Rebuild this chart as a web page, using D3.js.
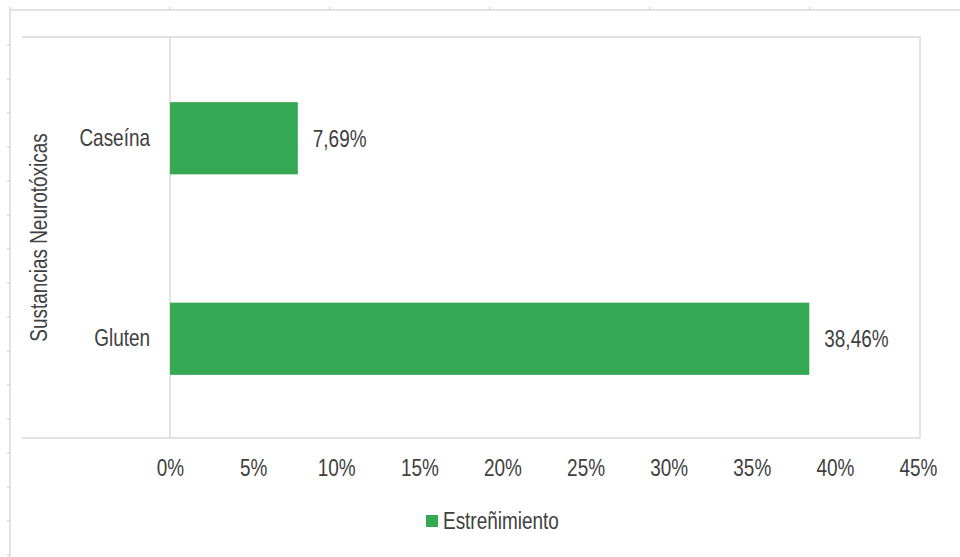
<!DOCTYPE html>
<html>
<head>
<meta charset="utf-8">
<script src="https://cdn.jsdelivr.net/npm/d3@7"></script>
<style>
  html, body { margin: 0; padding: 0; background: #fff; }
  svg { display: block; }
  text { font-family: "Liberation Sans", Arial, sans-serif; fill: #404040; }
</style>
</head>
<body>
<svg id="chart" width="960" height="557"></svg>
<script>
// Data
const categories = ["Caseína", "Gluten"];
const values = [7.69, 38.46];
const valueLabels = ["7,69%", "38,46%"];
const tickValues = [0, 5, 10, 15, 20, 25, 30, 35, 40, 45];
const seriesName = "Estreñimiento";
const axisTitle = "Sustancias Neurotóxicas";

const svg = d3.select("#chart");
const W = 960, H = 557;
const plot = { left: 22, top: 37, right: 920, bottom: 438 };
const axisX0 = 170;
const barColor = "#34A853";
const gridColor = "#d9d9d9";
const fontSize = 24;
const narrow = 0.79; // horizontal squeeze for a condensed look

// Outer frame with small cell marks
const frame = svg.append("g");
frame.append("line").attr("x1", 10).attr("x2", W).attr("y1", 10).attr("y2", 10)
  .attr("stroke", gridColor).attr("stroke-width", 1.5);
frame.append("line").attr("x1", 10).attr("x2", 10).attr("y1", 10).attr("y2", H)
  .attr("stroke", gridColor).attr("stroke-width", 1.5);
d3.range(10, W, 160).forEach(x => {
  frame.append("line").attr("x1", x).attr("x2", x).attr("y1", 7).attr("y2", 10)
    .attr("stroke", gridColor).attr("stroke-width", 1.5);
});
d3.range(45, H, 34).forEach(y => {
  frame.append("line").attr("x1", 7).attr("x2", 10).attr("y1", y).attr("y2", y)
    .attr("stroke", gridColor).attr("stroke-width", 1.5);
});

// Scales
const x = d3.scaleLinear().domain([0, 45]).range([axisX0, 918]);
const y = d3.scaleBand().domain(categories).range([plot.top, plot.bottom]).paddingInner(0.64).paddingOuter(0.32);

// Plot area border (top, right, bottom)
svg.append("path")
  .attr("d", `M${plot.left},${plot.top}H${plot.right}V${plot.bottom}H${plot.left}`)
  .attr("fill", "none").attr("stroke", gridColor).attr("stroke-width", 1.5);

// Vertical category axis line
svg.append("line").attr("x1", x(0)).attr("x2", x(0)).attr("y1", plot.top).attr("y2", plot.bottom)
  .attr("stroke", gridColor).attr("stroke-width", 1.5);

// Bars
svg.append("g").selectAll("rect").data(categories).join("rect")
  .attr("x", x(0))
  .attr("y", d => y(d) + 1)
  .attr("width", (d, i) => x(values[i]) - x(0))
  .attr("height", y.bandwidth())
  .attr("fill", barColor);

// Value labels
svg.append("g").selectAll("text").data(categories).join("text")
  .attr("transform", (d, i) => `translate(${x(values[i]) + 15},${y(d) + 1 + y.bandwidth() / 2}) scale(${narrow},1)`)
  .attr("dy", "0.35em")
  .attr("font-size", fontSize)
  .text((d, i) => valueLabels[i]);

// Category labels
const yAxis = d3.axisLeft(y).tickSize(0).tickPadding(0);
const yg = svg.append("g").attr("transform", `translate(${x(0) - 20},1)`).call(yAxis);
yg.select(".domain").remove();
yg.selectAll("text").attr("font-size", fontSize).attr("fill", "#404040")
  .attr("transform", `scale(${narrow},1)`)
  .style("font-family", "'Liberation Sans', Arial, sans-serif");

// Value axis tick labels
const xAxis = d3.axisBottom(x).tickValues(tickValues).tickFormat(d => d + "%").tickSize(0).tickPadding(21);
const xg = svg.append("g").attr("transform", `translate(0,${plot.bottom})`).call(xAxis);
xg.select(".domain").remove();
xg.selectAll("text").attr("font-size", fontSize).attr("fill", "#404040")
  .attr("transform", `scale(${narrow},1)`)
  .style("font-family", "'Liberation Sans', Arial, sans-serif");

// Axis title
svg.append("text")
  .attr("transform", `translate(47,${(plot.top + plot.bottom) / 2}) rotate(-90) scale(${narrow},1)`)
  .attr("text-anchor", "middle")
  .attr("font-size", fontSize)
  .text(axisTitle);

// Legend
const lg = svg.append("g").attr("transform", "translate(426,521)");
lg.append("rect").attr("x", 0).attr("y", -6).attr("width", 12).attr("height", 12).attr("fill", barColor);
lg.append("text").attr("transform", `translate(17,0) scale(${narrow},1)`)
  .attr("dy", "0.35em").attr("font-size", fontSize).text(seriesName);
</script>
</body>
</html>
